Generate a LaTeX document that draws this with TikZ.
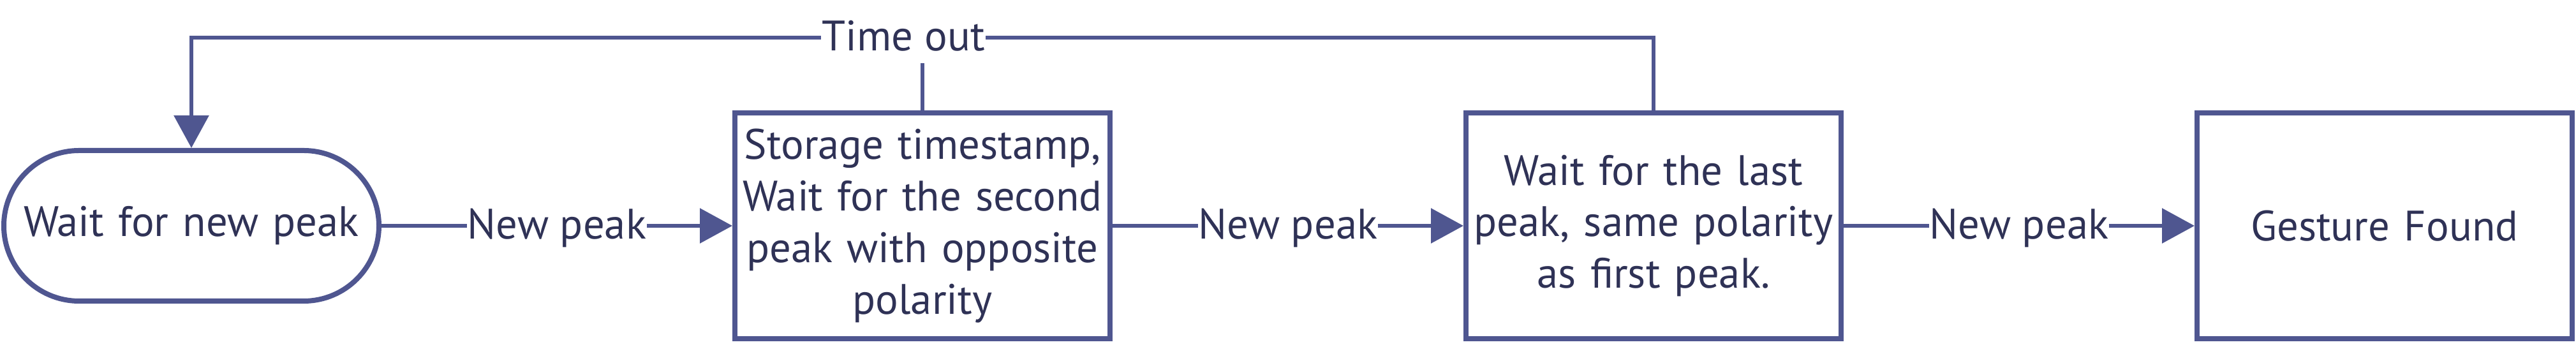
\documentclass[tikz,border=0pt]{standalone}
\usepackage{fontspec}
\setmainfont{PT Sans}
\usetikzlibrary{arrows.meta,positioning}
\definecolor{gstLine}{HTML}{4F5690}
\definecolor{gstInk}{HTML}{2F3256}
\tikzset{
  gst box/.style={draw=gstLine, line width=0.08cm, minimum width=5.88cm, minimum height=3.54cm, inner sep=0pt, text width=5.8cm, align=center, text=gstInk, font=\fontsize{19}{23}\selectfont},
  gst start/.style={gst box, minimum height=2.36cm, rounded corners=1.18cm},
  gst link/.style={draw=gstLine, line width=0.06cm},
  gst arrow/.style={gst link, -{Triangle[length=0.51cm,width=0.54cm]}},
  gst label/.style={fill=white, text=gstInk, font=\fontsize{19}{23}\selectfont, inner xsep=0.01cm, inner ysep=0.13cm, text height=0.47cm, text depth=0.05cm},
}
\begin{document}
\begin{tikzpicture}
\useasboundingbox (0,0) rectangle (40.38,-5.44);
\node[gst start] (start) at (3.00,-3.54) {Wait for new peak};
\node[gst box, right=5.5cm of start] (store) {Storage timestamp,\\Wait for the second\\peak with opposite\\polarity};
\node[gst box, right=5.5cm of store] (last) {Wait for the last\\peak, same polarity\\as first peak.};
\node[gst box, right=5.5cm of last] (found) {Gesture Found};
\node[gst label] (tmo) at (14.16,-0.59) {Time out};
\draw[gst arrow] (start) -- node[gst label] (np1) {New peak} (store);
\draw[gst arrow] (store) -- node[gst label] (np2) {New peak} (last);
\draw[gst arrow] (last) -- node[gst label] (np3) {New peak} (found);
\draw[gst arrow] (last.north) |- (tmo.east) (tmo.west) -| (start.north);
\draw[gst link] (store.north) -- (store.north |- tmo.south);
\end{tikzpicture}
\end{document}
